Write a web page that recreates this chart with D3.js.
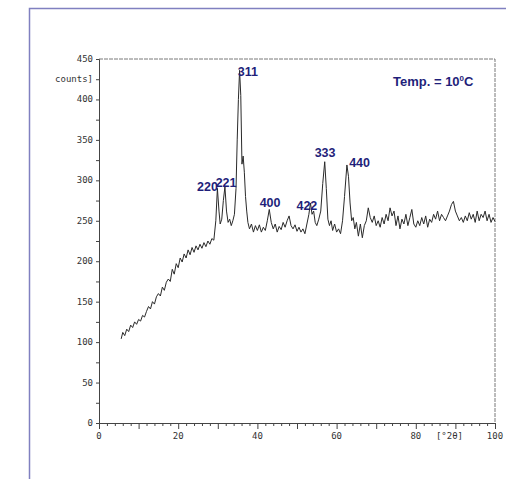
<!DOCTYPE html>
<html>
<head>
<meta charset="utf-8">
<script src="https://cdn.jsdelivr.net/npm/d3@7"></script>
<style>
  body { margin: 0; background: #fff; }
  svg { display: block; }
  .tick-label { font-family: "DejaVu Sans Mono", monospace; font-size: 9px; fill: #333; }
  .peak { font-family: "Liberation Sans", Arial, sans-serif; font-weight: bold; font-size: 12.5px; fill: #1f1f7a; }
</style>
</head>
<body>
<div id="chart"></div>
<script>
// diffraction scan: [2theta, counts]
const scan = [
  [5.6,104],[6.0,112],[6.5,108],[7.0,116],[7.5,113],[8.0,121],[8.5,118],[9.0,125],[9.5,122],
  [10.0,128],[10.5,126],[11.0,133],[11.5,131],[12.0,138],[12.5,144],[13.0,141],[13.5,150],
  [14.0,147],[14.5,156],[15.0,160],[15.5,157],[16.0,168],[16.5,164],[17.0,174],[17.5,178],
  [18.0,175],[18.5,190],[19.0,184],[19.5,197],[20.0,192],[20.5,204],[21.0,199],[21.5,209],
  [22.0,204],[22.5,214],[23.0,208],[23.5,217],[24.0,211],[24.5,219],[25.0,214],[25.5,221],
  [26.0,216],[26.5,223],[27.0,218],[27.5,225],[28.0,221],[28.5,228],[29.0,226],[29.5,250],
  [29.9,290],[30.3,262],[30.6,246],[31.0,252],[31.4,275],[31.8,292],[32.2,262],[32.6,248],
  [33.0,252],[33.4,244],[33.8,250],[34.2,258],[34.6,290],[34.9,350],[35.2,400],[35.5,436],
  [35.8,405],[36.1,320],[36.4,330],[36.7,310],[37.0,280],[37.3,262],[37.6,248],[38.0,240],
  [38.5,246],[39.0,236],[39.5,244],[40.0,238],[40.5,245],[41.0,236],[41.5,242],[42.0,238],
  [42.5,250],[43.0,264],[43.5,248],[44.0,240],[44.5,246],[45.0,236],[45.5,243],[46.0,239],
  [46.5,248],[47.0,242],[47.5,250],[48.0,256],[48.5,244],[49.0,240],[49.5,245],[50.0,237],
  [50.5,242],[51.0,236],[51.5,240],[52.0,234],[52.5,246],[53.0,258],[53.4,272],[53.8,258],
  [54.2,262],[54.6,248],[55.0,244],[55.5,252],[56.0,262],[56.5,296],[57.0,323],[57.4,290],
  [57.8,252],[58.2,244],[58.6,250],[59.0,238],[59.5,246],[60.0,236],[60.5,240],[61.0,234],
  [61.5,250],[62.0,280],[62.6,319],[63.0,305],[63.4,272],[63.8,250],[64.2,254],[64.6,240],
  [65.0,248],[65.5,231],[66.0,246],[66.5,229],[67.0,244],[67.5,250],[68.0,266],[68.5,254],
  [69.0,248],[69.5,256],[70.0,244],[70.5,250],[71.0,242],[71.5,254],[72.0,246],[72.5,258],
  [73.0,250],[73.5,266],[74.0,256],[74.5,262],[75.0,244],[75.5,256],[76.0,240],[76.5,252],
  [77.0,246],[77.5,258],[78.0,244],[78.5,254],[79.0,264],[79.5,246],[80.0,242],[80.5,250],
  [81.0,244],[81.5,254],[82.0,246],[82.5,256],[83.0,242],[83.5,252],[84.0,248],[84.5,258],
  [85.0,252],[85.5,262],[86.0,250],[86.5,258],[87.0,254],[87.5,250],[88.0,256],[88.5,262],
  [89.0,270],[89.5,274],[90.0,262],[90.5,256],[91.0,250],[91.5,254],[92.0,248],[92.5,256],
  [93.0,250],[93.5,260],[94.0,252],[94.5,258],[95.0,248],[95.5,262],[96.0,250],[96.5,258],
  [97.0,254],[97.5,262],[98.0,250],[98.5,258],[99.0,248],[99.5,254],[100.0,249]
];

// reflection labels (hkl) and where their centres sit (2theta, counts)
const peakNames = ["220", "221", "311", "400", "422", "333", "440"];
const peakTheta = [27.4, 32.1, 37.6, 43.2, 52.5, 57.1, 65.8];
const peakCounts = [287, 292, 429, 267, 263, 329, 316];

const xTicks = [0, 20, 40, 60, 80, 100];
const yTicks = [0, 50, 100, 150, 200, 250, 300, 350, 400, 450];

const width = 506, height = 479;
const x = d3.scaleLinear().domain([0, 100]).range([99, 495]);
const y = d3.scaleLinear().domain([0, 450]).range([423, 59]);

const svg = d3.select("#chart").append("svg")
    .attr("width", width)
    .attr("height", height);

// page frame from the scan
svg.append("path")
    .attr("d", `M29.5,${height} V8.5 H${width}`)
    .attr("fill", "none")
    .attr("stroke", "#8080c0")
    .attr("stroke-width", 1.5);

// plot box (top and right edges dashed like the printout)
svg.append("path")
    .attr("d", `M${x(0)},${y(450)} H${x(100)} V${y(0)}`)
    .attr("fill", "none")
    .attr("stroke", "#555")
    .attr("stroke-width", 0.8)
    .attr("stroke-dasharray", "4,1");

// x axis with minor ticks every 2 deg
const xAxis = d3.axisBottom(x)
    .tickValues(d3.range(0, 101, 2))
    .tickSize(3)
    .tickFormat("");
svg.append("g")
    .attr("transform", `translate(0,${y(0)})`)
    .call(xAxis)
    .call(g => g.select(".domain").attr("stroke", "#444"))
    .call(g => g.selectAll(".tick line").attr("stroke", "#444")
        .attr("y2", d => d % 10 === 0 ? 6 : 3));

svg.append("g").selectAll("text")
    .data(xTicks)
    .join("text")
    .attr("class", "tick-label")
    .attr("x", d => x(d))
    .attr("y", y(0) + 16)
    .attr("text-anchor", "middle")
    .text(d => d);

svg.append("text")
    .attr("class", "tick-label")
    .attr("x", x(88.5))
    .attr("y", y(0) + 16)
    .attr("text-anchor", "middle")
    .text("[°2θ]");

// y axis, minor ticks every 25
const yAxis = d3.axisLeft(y)
    .tickValues(d3.range(0, 451, 25))
    .tickSize(3)
    .tickFormat("");
svg.append("g")
    .attr("transform", `translate(${x(0)},0)`)
    .call(yAxis)
    .call(g => g.select(".domain").attr("stroke", "#444"))
    .call(g => g.selectAll(".tick line").attr("stroke", "#444"));

svg.append("g").selectAll("text")
    .data(yTicks)
    .join("text")
    .attr("class", "tick-label")
    .attr("x", x(0) - 6)
    .attr("y", d => y(d) + 3)
    .attr("text-anchor", "end")
    .text(d => d);

svg.append("text")
    .attr("class", "tick-label")
    .attr("x", x(0) - 6)
    .attr("y", y(425) + 3)
    .attr("text-anchor", "end")
    .text("counts]");

// the scan
const line = d3.line()
    .x(d => x(d[0]))
    .y(d => y(d[1]));

svg.append("path")
    .datum(scan)
    .attr("d", line)
    .attr("fill", "none")
    .attr("stroke", "#2a2a2a")
    .attr("stroke-width", 1);

// hkl labels
svg.append("g").selectAll("text")
    .data(peakNames)
    .join("text")
    .attr("class", "peak")
    .attr("x", (d, i) => x(peakTheta[i]))
    .attr("y", (d, i) => y(peakCounts[i]))
    .attr("text-anchor", "middle")
    .text(d => d);

const temp = svg.append("text")
    .attr("class", "peak")
    .attr("x", 393)
    .attr("y", 86)
    .style("font-size", "13px");
temp.append("tspan").text("Temp. = 10");
temp.append("tspan").attr("dy", -5).style("font-size", "8px").text("0");
temp.append("tspan").attr("dy", 5).text("C");
</script>
</body>
</html>
